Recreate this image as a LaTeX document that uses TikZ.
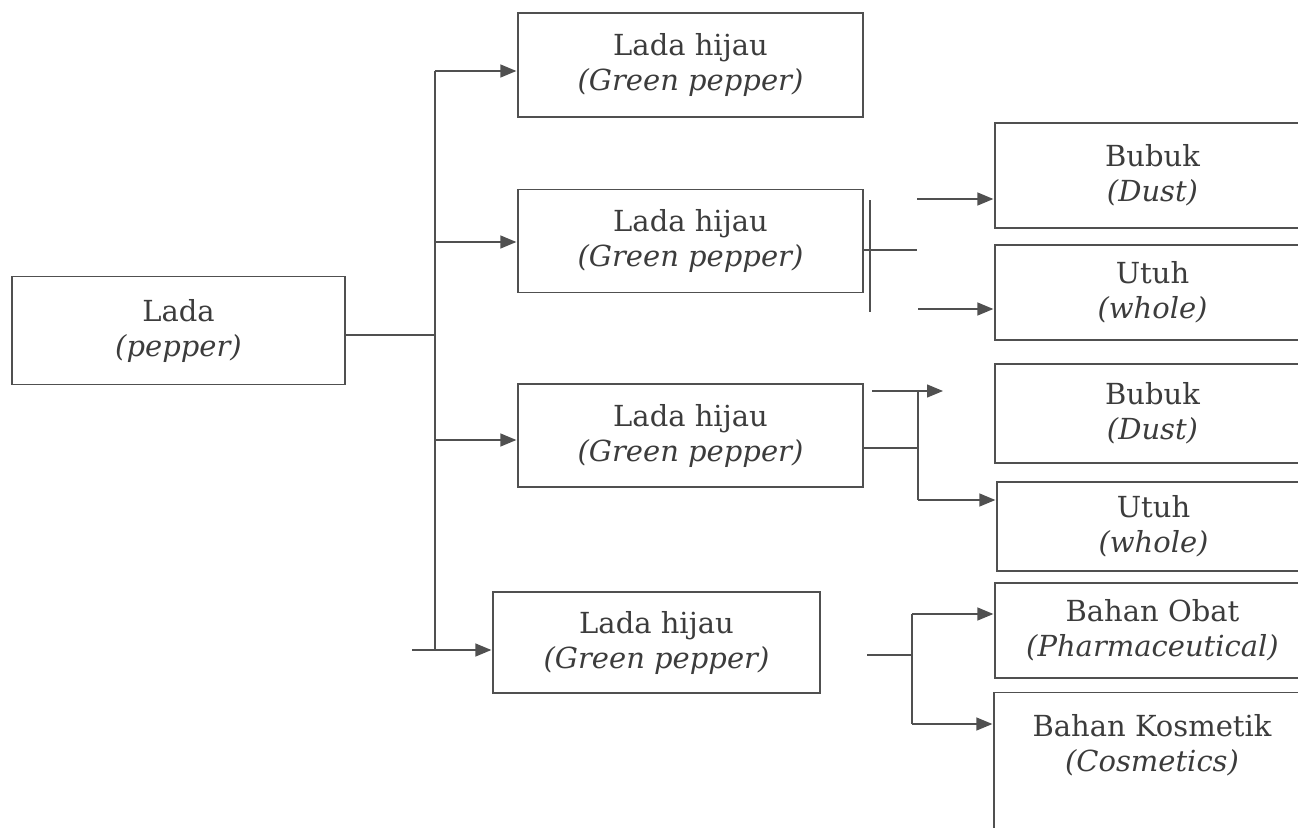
\documentclass[tikz,border=0pt]{standalone}
\usepackage{fontspec}
\setmainfont{DejaVu Serif}
\usetikzlibrary{arrows.meta}

\definecolor{inkline}{HTML}{505050}
\definecolor{inktext}{HTML}{3C3C3C}

\tikzset{
  box/.style={draw=inkline, line width=1.3pt, rectangle, inner sep=0pt,
    align=center, text=inktext, font=\fontsize{29}{35}\selectfont},
  txt/.style={inner sep=0pt, align=center, text=inktext,
    font=\fontsize{29}{35}\selectfont},
  link/.style={draw=inkline, line width=1.3pt},
  arr/.style={link, -{Triangle[length=16pt,width=13pt]}, shorten >=1pt},
}

\begin{document}
\begin{tikzpicture}[x=1pt,y=-1pt]
  \useasboundingbox (0,0) rectangle (1298,827);
  \clip (0,0) rectangle (1298,827);

  % root
  \node[box, minimum width=333pt, minimum height=108pt] (lada) at (178.5,330.5)
    {Lada\\\textit{(pepper)}};

  % second level
  \node[box, minimum width=345pt, minimum height=104pt] (g1) at (690.5,65)
    {Lada hijau\\\textit{(Green pepper)}};
  \node[box, minimum width=345pt, minimum height=103pt] (g2) at (690.5,241)
    {Lada hijau\\\textit{(Green pepper)}};
  \node[box, minimum width=345pt, minimum height=103pt] (g3) at (690.5,435.5)
    {Lada hijau\\\textit{(Green pepper)}};
  \node[box, minimum width=327pt, minimum height=101pt] (g4) at (656.5,642.5)
    {Lada hijau\\\textit{(Green pepper)}};

  % third level
  \node[box, minimum width=315pt, minimum height=105pt] (b1) at (1152.5,175.5)
    {Bubuk\\\textit{(Dust)}};
  \node[box, minimum width=315pt, minimum height=95pt] (u1) at (1152.5,292.5)
    {Utuh\\\textit{(whole)}};
  \node[box, minimum width=315pt, minimum height=99pt] (b2) at (1152.5,413.5)
    {Bubuk\\\textit{(Dust)}};
  \node[box, minimum width=313pt, minimum height=89pt] (u2) at (1153.5,526.5)
    {Utuh\\\textit{(whole)}};
  \node[box, minimum width=315pt, minimum height=95pt] (obat) at (1152.5,630.5)
    {Bahan Obat\\\textit{(Pharmaceutical)}};
  \node[box, anchor=north, minimum width=316pt, minimum height=200pt] (kos) at (1152,692) {};
  \node[txt] (kostext) at (1152,745) {Bahan Kosmetik\\\textit{(Cosmetics)}};

  % trunk from the root
  \coordinate (tin) at (435,335);
  \coordinate (t1) at (435,71);
  \coordinate (t2) at (435,242);
  \coordinate (t3) at (435,440);
  \coordinate (t4) at (435,650);
  \coordinate (t4s) at (412,650);
  \draw[link] (lada.east |- tin) -- (tin);
  \draw[link] (t1) -- (t4);
  \draw[arr] (t1) -- (t1 -| g1.west);
  \draw[arr] (t2) -- (t2 -| g2.west);
  \draw[arr] (t3) -- (t3 -| g3.west);
  \draw[arr] (t4s) -- (t4s -| g4.west);

  % branches of the second box
  \coordinate (m2) at (917,250);
  \coordinate (v2a) at (870,200);
  \coordinate (v2b) at (870,312);
  \coordinate (a2a) at (917,199);
  \coordinate (a2b) at (918,309);
  \draw[link] (v2a) -- (v2b);
  \draw[link] (g2.east |- m2) -- (m2);
  \draw[arr] (a2a) -- (a2a -| b1.west);
  \draw[arr] (a2b) -- (a2b -| u1.west);

  % branches of the third box
  \coordinate (s3) at (872,391);
  \coordinate (e3) at (944,391);
  \coordinate (j3) at (918,391);
  \coordinate (m3) at (918,448);
  \coordinate (k3) at (918,500);
  \draw[arr] (s3) -- (e3);
  \draw[link] (j3) -- (k3);
  \draw[link] (g3.east |- m3) -- (m3);
  \draw[arr] (k3) -- (k3 -| u2.west);

  % branches of the fourth box
  \coordinate (s4) at (867,655);
  \coordinate (m4) at (912,655);
  \coordinate (j4a) at (912,614);
  \coordinate (j4b) at (912,724);
  \draw[link] (s4) -- (m4);
  \draw[link] (j4a) -- (j4b);
  \draw[arr] (j4a) -- (j4a -| obat.west);
  \draw[arr] (j4b) -- (j4b -| kos.west);
\end{tikzpicture}
\end{document}
